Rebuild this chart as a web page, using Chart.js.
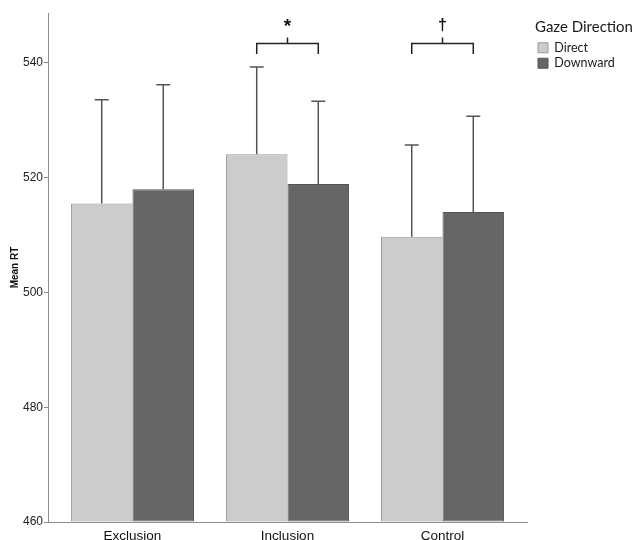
<!DOCTYPE html>
<html>
<head>
<meta charset="utf-8">
<script src="https://cdn.jsdelivr.net/npm/chart.js@4"></script>
<style>
  html, body { margin: 0; padding: 0; background: #fff; }
  #wrap { width: 633px; height: 540px; }
</style>
</head>
<body>
<div id="wrap"><canvas id="grafik"></canvas></div>
<script>
// data
const categories = ["Exclusion", "Inclusion", "Control"];
const directMean = [515.5, 524.1, 509.7];
const downwardMean = [518.0, 518.9, 514.0];
const directUpper = [533.6, 539.3, 525.7];   // top of error bar
const downwardUpper = [536.2, 533.3, 530.7];
const sigMarks = ["", "*", "\u2020"];         // bracket labels per group
const bracketLevel = 543.4;
const yTicks = [460, 480, 500, 520, 540];

// error bars + significance brackets
const extras = {
    id: "extras",
    afterDatasetsDraw(chart) {
        const ctx = chart.ctx;
        const y = chart.scales.y;
        const uppers = [directUpper, downwardUpper];

        ctx.save();
        ctx.strokeStyle = "#555";
        ctx.lineWidth = 1.5;
        uppers.forEach((arr, d) => {
            chart.getDatasetMeta(d).data.forEach((bar, i) => {
                const yTop = y.getPixelForValue(arr[i]);
                ctx.beginPath();
                ctx.moveTo(bar.x, bar.y);
                ctx.lineTo(bar.x, yTop);
                ctx.moveTo(bar.x - 7, yTop);
                ctx.lineTo(bar.x + 7, yTop);
                ctx.stroke();
            });
        });

        const left = chart.getDatasetMeta(0).data;
        const right = chart.getDatasetMeta(1).data;
        const yb = y.getPixelForValue(bracketLevel);
        ctx.strokeStyle = "#222";
        ctx.fillStyle = "#111";
        ctx.textAlign = "center";
        ctx.textBaseline = "alphabetic";
        sigMarks.forEach((mark, i) => {
            if (!mark) return;
            const x1 = left[i].x, x2 = right[i].x, xm = (x1 + x2) / 2;
            ctx.beginPath();
            ctx.moveTo(x1, yb + 10.5);
            ctx.lineTo(x1, yb);
            ctx.lineTo(x2, yb);
            ctx.lineTo(x2, yb + 10.5);
            ctx.moveTo(xm, yb);
            ctx.lineTo(xm, yb - 6);
            ctx.stroke();
            ctx.font = mark === "*" ? "bold 19px 'Liberation Sans'" : "bold 16px 'Liberation Sans'";
            ctx.fillText(mark, xm, mark === "*" ? yb - 11 : yb - 13);
        });
        ctx.restore();
    }
};

// keep legend at fixed width and nudge it right
const legendFix = {
    id: "legendFix",
    beforeLayout(chart) {
        const lg = chart.legend;
        if (lg && !lg._fixed) {
            const fit = lg.fit;
            lg.fit = function () { fit.call(this); this.width = 106; };
            lg._fixed = true;
        }
    },
    afterLayout(chart) {
        chart.legend.left += 8;
        chart.legend.right += 8;
    }
};

new Chart(document.getElementById("grafik"), {
    type: "bar",
    data: {
        datasets: [{
            label: "Direct",
            data: directMean.map((v, i) => ({ x: i, y: v })),
            backgroundColor: "#cccccc",
            borderColor: "#9a9a9a",
            borderWidth: 1,
            borderSkipped: false,
            base: 460
        }, {
            label: "Downward",
            data: downwardMean.map((v, i) => ({ x: i, y: v })),
            backgroundColor: "#666666",
            borderColor: "#555555",
            borderWidth: 1,
            borderSkipped: false,
            base: 460
        }]
    },
    options: {
        responsive: true,
        maintainAspectRatio: false,
        animation: false,
        categoryPercentage: 0.794,
        barPercentage: 1,
        layout: { padding: { top: 13, left: 0, right: 0, bottom: 0 } },
        plugins: {
            tooltip: { enabled: false },
            legend: {
                position: "right",
                align: "start",
                title: {
                    display: true,
                    text: "Gaze Direction",
                    position: "start",
                    color: "#1a1a1a",
                    font: { family: "Lato", size: 15 },
                    padding: { top: 7, bottom: 0.5 }
                },
                labels: {
                    boxWidth: 10,
                    boxHeight: 10,
                    padding: 3,
                    color: "#1a1a1a",
                    font: { family: "Lato", size: 12.5 }
                }
            }
        },
        scales: {
            x: {
                type: "linear",
                offset: false,
                min: -0.545,
                max: 2.545,
                afterBuildTicks: s => { s.ticks = categories.map((c, i) => ({ value: i })); },
                afterFit: s => { s.height = 18; },
                grid: { drawOnChartArea: false, drawTicks: false, color: "#8c8c8c" },
                border: { color: "#8c8c8c" },
                ticks: {
                    padding: 6,
                    color: "#111",
                    maxRotation: 0,
                    autoSkip: false,
                    callback: v => categories[v],
                    font: { family: "Liberation Sans", size: 13.5 }
                }
            },
            y: {
                min: 460,
                max: 548.7,
                afterBuildTicks: s => { s.ticks = yTicks.map(v => ({ value: v })); },
                afterFit: s => { s.width = 48; },
                grid: { drawOnChartArea: false, drawTicks: true, tickLength: 4, color: "#8c8c8c" },
                border: { color: "#8c8c8c" },
                ticks: {
                    padding: 1,
                    color: "#222",
                    font: { family: "Liberation Sans", size: 12 }
                },
                title: {
                    display: true,
                    text: "Mean RT",
                    color: "#111",
                    font: { family: "Liberation Sans", size: 10, weight: "bold" },
                    padding: { top: 9, bottom: 0 }
                }
            }
        }
    },
    plugins: [extras, legendFix]
});
</script>
</body>
</html>
